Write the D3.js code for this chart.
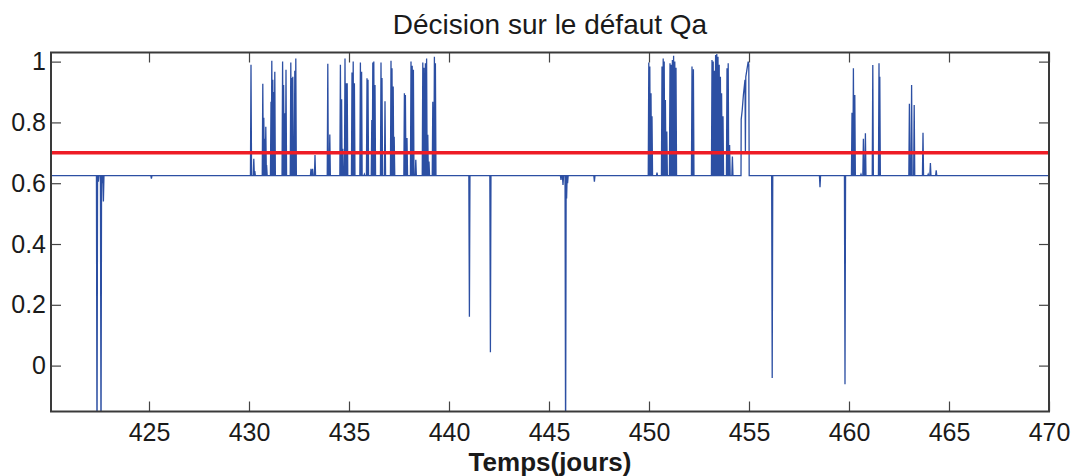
<!DOCTYPE html>
<html><head><meta charset="utf-8">
<script src="https://cdn.jsdelivr.net/npm/d3@7"></script>
<style>html,body{margin:0;padding:0;background:#fff;}svg{display:block;}</style>
</head><body><svg id="chart" width="1076" height="476"></svg>
<script>
// ---- data ----
const titleText = "Décision sur le défaut Qa";
const xLabelText = "Temps(jours)";
const xTicks = [425, 430, 435, 440, 445, 450, 455, 460, 465, 470];
const yTicks = [0, 0.2, 0.4, 0.6, 0.8, 1];
const baseline = 0.625;      // resting value of the decision signal
const threshold = 0.7;       // red decision threshold
const timeStart = 420.1, timeEnd = 470;

// spikes [time (days), value]
const earlyDrops = [[422.40,-0.30],[422.47,0.605],[422.60,-0.30],[422.66,0.60],[422.72,0.54],[425.12,0.615]];
const burstA = [[430.10,0.99],[430.24,0.68],[430.29,0.64],
  [430.69,0.927],[430.74,0.815],[430.79,0.746],[430.84,0.786],[430.88,0.66],
  [431.10,0.868],[431.14,1.003],[431.19,0.94],[431.24,0.90],[431.29,0.967],
  [431.68,1.0],[431.73,0.923],[431.78,0.83],[431.85,0.973],
  [432.09,0.997],[432.14,0.946],[432.19,0.95],[432.24,0.746],[432.29,0.97],[432.34,1.01]];
const burstB = [[433.10,0.647],[433.18,0.647],[433.30,0.693],
  [433.94,0.993],[434.04,0.76],
  [434.57,0.99],[434.63,0.876],[434.69,0.713],[434.80,1.01],[434.85,0.929],[434.91,0.929],
  [435.15,0.964],[435.21,1.0],[435.27,0.929],
  [435.57,0.997],[435.63,0.967],[435.77,0.63],
  [435.90,0.945],[435.95,0.94],
  [436.14,0.808],[436.19,0.997],[436.24,1.0],[436.30,0.923],
  [436.60,0.997],[436.65,0.946],[436.80,0.87],
  [437.10,1.003],[437.15,0.978],[437.21,0.918],[437.26,0.753],
  [437.77,0.896],[437.82,0.89],[437.90,0.749],
  [438.10,1.0],[438.16,0.986],[438.22,0.973],[438.34,0.677],
  [438.69,0.997],[438.75,0.98],[438.82,0.995],[438.88,1.01],[438.94,0.759],[439.00,0.671],
  [439.19,0.868],[439.27,1.016],[439.32,0.995]];
const midDrops = [[441.02,0.161],[442.07,0.044],
  [445.60,0.611],[445.70,0.594],[445.83,-0.30],[445.88,0.55],[445.93,0.60],[447.27,0.605]];
const burstC = [[449.99,0.997],[450.04,0.984],[450.10,0.896],[450.15,0.82],[450.40,0.635],
  [450.65,0.984],[450.71,1.01],[450.76,1.0],[450.82,0.874],[450.89,0.77],
  [451.05,0.995],[451.11,0.99],[451.17,1.005],[451.23,1.019],[451.29,1.0],[451.35,0.98],
  [452.15,0.984],[452.22,0.975],
  [453.15,1.005],[453.21,1.0],[453.27,0.97],[453.33,1.022],[453.39,1.025],[453.45,1.016],
  [453.51,0.99],[453.57,0.95],[453.63,0.896],[453.70,0.82],
  [453.90,0.978],[453.96,0.995],[454.03,0.726],[454.17,0.688]];
// ramp just before day 455 (explicit polyline)
const rampC = [[454.60,0.625],[454.61,0.81],[454.66,0.84],[454.72,0.89],[454.80,0.94],
  [454.82,0.70],[454.84,0.95],[454.90,0.975],[454.96,1.0],[454.99,0.99],[455.01,0.625]];
const lateDrops = [[456.16,-0.041],[458.55,0.587],[459.80,-0.061]];
const burstD = [[460.15,0.832],[460.22,0.978],[460.29,0.89],[460.60,0.63],[460.72,0.746],[460.82,0.764],
  [461.19,0.989],[461.50,0.995],[461.54,0.95],
  [463.02,0.861],[463.13,0.923],[463.26,0.857],[463.70,0.766],[463.96,0.63],[464.07,0.666],[464.36,0.642]];

// ---- layout ----
const M = {left: 51, right: 1049, top: 52.5, bottom: 411.5};
const svg = d3.select("#chart");
const x = d3.scaleLinear().domain([timeStart, timeEnd]).range([M.left, M.right]);
const y = d3.scaleLinear().domain([-0.151, 1.03]).range([M.bottom, M.top]);

// build the polyline: each spike leaves the baseline and returns to it
const halfWidth = 0.028;
const events = [];
[earlyDrops, burstA, burstB, midDrops, burstC, lateDrops, burstD].forEach(arr =>
  arr.forEach(([t, v]) => events.push({t, pts: [[t - halfWidth, baseline], [t, v], [t + halfWidth, baseline]]})));
events.push({t: rampC[0][0], pts: rampC});
events.sort((a, b) => a.t - b.t);
const series = [[timeStart, baseline]];
events.forEach(e => e.pts.forEach(p => series.push(p)));
series.push([timeEnd, baseline]);

svg.append("defs").append("clipPath").attr("id", "clip")
  .append("rect").attr("x", M.left).attr("y", M.top)
  .attr("width", M.right - M.left).attr("height", M.bottom - M.top);

const plot = svg.append("g").attr("clip-path", "url(#clip)");
plot.append("path").datum(series)
  .attr("fill", "none").attr("stroke", "#2c4fa3").attr("stroke-width", 1.3)
  .attr("stroke-linejoin", "miter")
  .attr("d", d3.line().x(d => x(d[0])).y(d => y(d[1])));

plot.append("line")
  .attr("x1", x(timeStart)).attr("x2", x(timeEnd))
  .attr("y1", y(threshold)).attr("y2", y(threshold))
  .attr("stroke", "#ee1c25").attr("stroke-width", 3.6);

// axes with inward ticks on all four sides
const fontFam = "'Liberation Sans', Arial, Helvetica, sans-serif";
function styleAxis(g, hideLabels) {
  g.select(".domain").remove();
  g.selectAll(".tick line").attr("stroke", "#444").attr("stroke-width", 1.2);
  g.selectAll(".tick text").attr("fill", "#1a1a1a").style("font-family", fontFam).style("font-size", "25px");
  if (hideLabels) g.selectAll(".tick text").remove();
}
svg.append("g").attr("transform", `translate(0,${M.bottom})`)
  .call(d3.axisBottom(x).tickValues(xTicks).tickSize(-10).tickPadding(12).tickFormat(d3.format("d")))
  .call(g => styleAxis(g, false));
svg.append("g").attr("transform", `translate(0,${M.top})`)
  .call(d3.axisTop(x).tickValues(xTicks).tickSize(-10))
  .call(g => styleAxis(g, true));
svg.append("g").attr("transform", `translate(${M.left},0)`)
  .call(d3.axisLeft(y).tickValues(yTicks).tickSize(-10).tickPadding(5).tickFormat(d => d3.format("~g")(d)))
  .call(g => styleAxis(g, false));
svg.append("g").attr("transform", `translate(${M.right},0)`)
  .call(d3.axisRight(y).tickValues(yTicks).tickSize(-10))
  .call(g => styleAxis(g, true));

svg.append("rect").attr("x", M.left).attr("y", M.top)
  .attr("width", M.right - M.left).attr("height", M.bottom - M.top)
  .attr("fill", "none").attr("stroke", "#3a3a3a").attr("stroke-width", 2);

svg.append("text").attr("x", (M.left + M.right) / 2).attr("y", 34)
  .attr("text-anchor", "middle").style("font-family", fontFam).style("font-size", "28px")
  .attr("fill", "#1a1a1a").text(titleText);
svg.append("text").attr("x", (M.left + M.right) / 2).attr("y", 471)
  .attr("text-anchor", "middle").style("font-family", fontFam).style("font-size", "26px")
  .style("font-weight", "bold").attr("fill", "#1a1a1a").text(xLabelText);
</script></body></html>
